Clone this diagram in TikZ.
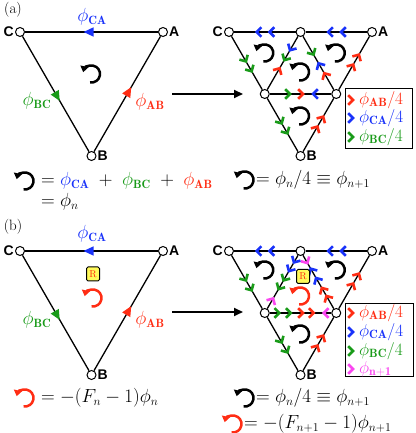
\RequirePackage{fix-cm}
\documentclass[tikz,border=0pt]{standalone}
\usepackage{fontspec}
\newfontfamily\vfont{Liberation Sans}
\DeclareMathSizes{19}{19}{12}{9}
\usetikzlibrary{arrows.meta,decorations.markings}
\definecolor{phiblue}{RGB}{25,50,250}
\definecolor{phired}{RGB}{255,45,20}
\definecolor{phigreen}{RGB}{25,155,25}
\definecolor{phimag}{RGB}{250,70,240}
\definecolor{rfill}{RGB}{255,250,90}

\begin{document}
\begin{tikzpicture}[x=1pt,y=1pt,font=\fontsize{19}{22}\selectfont,
    vtx/.style={circle,draw,fill=white,line width=1pt,inner sep=0pt,minimum size=9pt},
    vlab/.style={font=\vfont\bfseries\fontsize{14}{14}\selectfont,inner sep=1pt},
    edge/.style={line width=1.3pt},
    midarr/.style={postaction={decorate,decoration={markings,mark=at position 0.56 with {\arrow[color=#1]{Triangle[length=10pt,width=9pt]}}}}},
    ch/.style 2 args={postaction={decorate,decoration={markings,mark=at position #2 with {\draw[#1,line width=2.6pt,line join=miter] (-3.8pt,4.8pt) -- (1pt,0pt) -- (-3.8pt,-4.8pt);}}}},
    chv/.pic={\draw[line width=2.6pt,line join=miter] (-3.8pt,4.8pt) -- (1pt,0pt) -- (-3.8pt,-4.8pt);},
    circ/.pic={\draw[line width=2.5pt,-{Triangle[length=6pt,width=8pt]}] (-100:8.5pt) arc (-100:168:8.5pt);},
    bigarr/.style={line width=2pt,-{Triangle[length=9pt,width=8pt]}},
    rbox/.style={draw,fill=rfill,rounded corners=1.5pt,line width=1pt,minimum width=13pt,minimum height=14pt,inner sep=0pt,text=phired,font=\fontsize{10}{10}\selectfont},
    legbox/.style={draw,fill=white,line width=1pt,inner sep=0pt},
    eq/.style={anchor=west,inner sep=0pt},
    leg/.style={anchor=west,inner sep=0pt,font=\fontsize{17.28}{20}\selectfont},
    tag/.style={font=\fontsize{15}{17}\selectfont}]
    \useasboundingbox (0,0) rectangle (415,433);

    % (a)
    \node[tag] at (13,423) (Pa) {(a)};
    \node[vtx,label={[vlab]left:C}] at (20,401) (C1) {};
    \node[vtx,label={[vlab]right:A}] at (163,401) (A1) {};
    \node[vtx,label={[vlab]right:B}] at (91.5,277) (B1) {};
    \draw[edge,midarr=phiblue] (A1) -- (C1);
    \draw[edge,midarr=phigreen] (C1) -- (B1);
    \draw[edge,midarr=phired] (B1) -- (A1);
    \node[text=phiblue] at (92,416) (F1) {$\phi_{\mathbf{CA}}$};
    \node[text=phigreen] at (37,332) (G1) {$\phi_{\mathbf{BC}}$};
    \node[text=phired] at (150,331) (H1) {$\phi_{\mathbf{AB}}$};
    \pic at (91.5,359) {circ};

    \coordinate (S1) at (172,339);
    \coordinate (E1) at (243,339);
    \draw[bigarr] (S1) -- (E1);

    \node[vtx,label={[vlab]left:C}] at (229,401) (C2) {};
    \node[vtx] at (300.5,401) (T2) {};
    \node[vtx,label={[vlab]right:A}] at (372,401) (A2) {};
    \node[vtx] at (264.75,339) (L2) {};
    \node[vtx] at (336.25,339) (R2) {};
    \node[vtx,label={[vlab]right:B}] at (300.5,277) (B2) {};
    \draw[edge] (C2) -- (T2) -- (A2);
    \draw[edge] (C2) -- (L2) -- (B2);
    \draw[edge] (A2) -- (R2) -- (B2);
    \draw[edge] (L2) -- (R2);
    \draw[edge] (T2) -- (L2);
    \draw[edge] (T2) -- (R2);
    \path[ch={phiblue}{0.42},ch={phiblue}{0.6}] (T2.center) -- (C2.center);
    \path[ch={phiblue}{0.42},ch={phiblue}{0.6}] (A2.center) -- (T2.center);
    \path[ch={phigreen}{0.46},ch={phigreen}{0.62}] (C2.center) -- (L2.center);
    \path[ch={phigreen}{0.46},ch={phigreen}{0.62}] (L2.center) -- (B2.center);
    \path[ch={phired}{0.46},ch={phired}{0.62}] (B2.center) -- (R2.center);
    \path[ch={phired}{0.46},ch={phired}{0.62}] (R2.center) -- (A2.center);
    \path[ch={phiblue}{0.28},ch={phigreen}{0.44}] (T2.center) -- (L2.center);
    \path[ch={phired}{0.4}] (L2.center) -- (T2.center);
    \path[ch={phigreen}{0.34},ch={phired}{0.52}] (L2.center) -- (R2.center);
    \path[ch={phiblue}{0.31}] (R2.center) -- (L2.center);
    \path[ch={phigreen}{0.35}] (T2.center) -- (R2.center);
    \path[ch={phired}{0.32},ch={phiblue}{0.48}] (R2.center) -- (T2.center);
    \pic at (264.75,380) {circ};
    \pic at (336.25,380) {circ};
    \pic at (300.5,361) {circ};
    \pic at (300.5,317) {circ};

    \node[legbox,minimum width=67pt,minimum height=60pt] at (378.5,314) (K1) {};
    \pic[phired] at (352,333) {chv};
    \pic[phiblue] at (352,315) {chv};
    \pic[phigreen] at (352,296) {chv};
    \node[leg,text=phired] at (359,333) (K1a) {$\phi_{\mathbf{AB}}/4$};
    \node[leg,text=phiblue] at (359,315) (K1b) {$\phi_{\mathbf{CA}}/4$};
    \node[leg,text=phigreen] at (359,296) (K1c) {$\phi_{\mathbf{BC}}/4$};

    \pic at (25,252) {circ};
    \node[eq] at (41,252) (Q1) {$=\textcolor{phiblue}{\phi_{\mathbf{CA}}}\;+\;\textcolor{phigreen}{\phi_{\mathbf{BC}}}\;+\;\textcolor{phired}{\phi_{\mathbf{AB}}}$};
    \node[eq] at (41,231) (Q2) {$=\phi_n$};
    \pic at (245,253) {circ};
    \node[eq] at (256,253) (Q3) {$=\phi_n/4\equiv\phi_{n+1}$};

    % (b)
    \node[tag] at (13,206) (Pb) {(b)};
    \node[vtx,label={[vlab]left:C}] at (20,182) (C3) {};
    \node[vtx,label={[vlab]right:A}] at (163,182) (A3) {};
    \node[vtx,label={[vlab]right:B}] at (91.5,58) (B3) {};
    \draw[edge,midarr=phiblue] (A3) -- (C3);
    \draw[edge,midarr=phigreen] (C3) -- (B3);
    \draw[edge,midarr=phired] (B3) -- (A3);
    \node[text=phiblue] at (92,199) (F3) {$\phi_{\mathbf{CA}}$};
    \node[text=phigreen] at (37,113) (G3) {$\phi_{\mathbf{BC}}$};
    \node[text=phired] at (150,113) (H3) {$\phi_{\mathbf{AB}}$};
    \node[rbox] at (93,159) (R3) {R};
    \pic[phired] at (93,135) {circ};

    \coordinate (S2) at (172,121);
    \coordinate (E2) at (243,121);
    \draw[bigarr] (S2) -- (E2);

    \node[vtx,label={[vlab]left:C}] at (229,182) (C4) {};
    \node[vtx] at (300.5,182) (T4) {};
    \node[vtx,label={[vlab]right:A}] at (372,182) (A4) {};
    \node[vtx] at (264.75,120) (L4) {};
    \node[vtx] at (336.25,120) (R4) {};
    \node[vtx,label={[vlab]right:B}] at (300.5,58) (B4) {};
    \draw[edge] (C4) -- (T4) -- (A4);
    \draw[edge] (C4) -- (L4) -- (B4);
    \draw[edge] (A4) -- (R4) -- (B4);
    \draw[edge] (L4) -- (R4);
    \draw[edge] (T4) -- (L4);
    \draw[edge] (T4) -- (R4);
    \path[ch={phiblue}{0.42},ch={phiblue}{0.6}] (T4.center) -- (C4.center);
    \path[ch={phiblue}{0.42},ch={phiblue}{0.6}] (A4.center) -- (T4.center);
    \path[ch={phigreen}{0.46},ch={phigreen}{0.62}] (C4.center) -- (L4.center);
    \path[ch={phigreen}{0.46},ch={phigreen}{0.62}] (L4.center) -- (B4.center);
    \path[ch={phired}{0.46},ch={phired}{0.62}] (B4.center) -- (R4.center);
    \path[ch={phired}{0.46},ch={phired}{0.62}] (R4.center) -- (A4.center);
    \path[ch={phiblue}{0.17},ch={phiblue}{0.31},ch={phigreen}{0.46},ch={phigreen}{0.6}] (T4.center) -- (L4.center);
    \path[ch={phimag}{0.22}] (L4.center) -- (T4.center);
    \path[ch={phigreen}{0.19},ch={phigreen}{0.35},ch={phired}{0.52},ch={phired}{0.67}] (L4.center) -- (R4.center);
    \path[ch={phimag}{0.16}] (R4.center) -- (L4.center);
    \path[ch={phimag}{0.18}] (T4.center) -- (R4.center);
    \path[ch={phired}{0.26},ch={phired}{0.39},ch={phiblue}{0.55},ch={phiblue}{0.7}] (R4.center) -- (T4.center);
    \pic at (264.75,163) {circ};
    \pic at (336.25,163) {circ};
    \pic at (300.5,99) {circ};
    \node[rbox] at (303,156.5) (R4b) {R};
    \pic[phired] at (300.5,137) {circ};

    \node[legbox,minimum width=68pt,minimum height=73pt] at (379,92.5) (K2) {};
    \pic[phired] at (352,120) {chv};
    \pic[phiblue] at (352,101) {chv};
    \pic[phigreen] at (352,82) {chv};
    \pic[phimag] at (352,64) {chv};
    \node[leg,text=phired] at (359,120) (K2a) {$\phi_{\mathbf{AB}}/4$};
    \node[leg,text=phiblue] at (359,101) (K2b) {$\phi_{\mathbf{CA}}/4$};
    \node[leg,text=phigreen] at (359,82) (K2c) {$\phi_{\mathbf{BC}}/4$};
    \node[leg,text=phimag] at (359,64) (K2d) {$\phi_{\mathbf{n+1}}$};

    \pic[phired] at (25,35) {circ};
    \node[eq] at (41,35) (Q4) {$=-(F_n-1)\phi_n$};
    \pic at (245,35) {circ};
    \node[eq] at (256,35) (Q5) {$=\phi_n/4\equiv\phi_{n+1}$};
    \pic[phired] at (233,9) {circ};
    \node[eq] at (244,9) (Q6) {$=-(F_{n+1}-1)\phi_{n+1}$};
\end{tikzpicture}
\end{document}
